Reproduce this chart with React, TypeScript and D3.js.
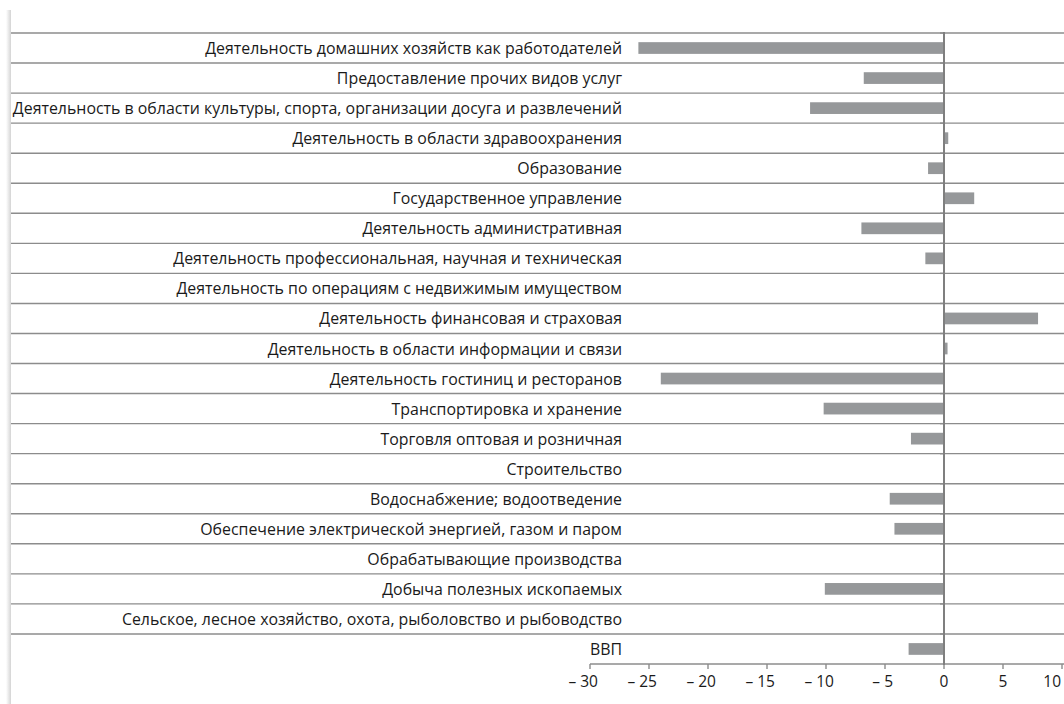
import React from "react";
import * as d3 from "d3";

const categories: string[] = [
  "Деятельность домашних хозяйств как работодателей",
  "Предоставление прочих видов услуг",
  "Деятельность в области культуры, спорта, организации досуга и развлечений",
  "Деятельность в области здравоохранения",
  "Образование",
  "Государственное управление",
  "Деятельность административная",
  "Деятельность профессиональная, научная и техническая",
  "Деятельность по операциям с недвижимым имуществом",
  "Деятельность финансовая и страховая",
  "Деятельность в области информации и связи",
  "Деятельность гостиниц и ресторанов",
  "Транспортировка и хранение",
  "Торговля оптовая и розничная",
  "Строительство",
  "Водоснабжение; водоотведение",
  "Обеспечение электрической энергией, газом и паром",
  "Обрабатывающие производства",
  "Добыча полезных ископаемых",
  "Сельское, лесное хозяйство, охота, рыболовство и рыбоводство",
  "ВВП",
];

const values: number[] = [
  -25.9, -6.8, -11.35, 0.36, -1.35, 2.56, -7.0, -1.58, 0, 7.97, 0.3, -24.0,
  -10.2, -2.8, 0, -4.6, -4.2, 0, -10.1, 0, -3.0,
];

const xTicks: number[] = [-30, -25, -20, -15, -10, -5, 0, 5, 10];

const fmt = (v: number) => (v < 0 ? "\u2013 " + Math.abs(v) : String(v));

export default function App() {
  const W = 1064;
  const H = 704;
  const x = d3.scaleLinear().domain([-30, 10]).range([590, 1062]);
  const yRow = d3.scaleBand<string>().domain(categories).range([33, 664]).padding(0);
  const y = d3
    .scaleBand<string>()
    .domain(categories)
    .range([33, 664])
    .paddingInner(0.61)
    .paddingOuter(0.305);
  const x0 = x(0);
  const font = "'Open Sans', sans-serif";

  return (
    <svg
      width={W}
      height={H}
      style={{ position: "absolute", left: 0, top: 0, background: "#fff" }}
    >
      <defs>
        <linearGradient id="shadow" x1="0" x2="1" y1="0" y2="0">
          <stop offset="0" stopColor="#ffffff" />
          <stop offset="1" stopColor="#d4d4d4" />
        </linearGradient>
      </defs>
      <rect x={6} y={10} width={5} height={H - 10} fill="url(#shadow)" />
      {categories.map((c) => (
        <line
          key={"r" + c}
          x1={11}
          x2={W}
          y1={yRow(c)!}
          y2={yRow(c)!}
          stroke="#8c8c8c"
          strokeWidth={1.4}
        />
      ))}
      {categories.map((c, i) => {
        const v = values[i];
        if (v === 0) return null;
        return (
          <rect
            key={"b" + c}
            x={Math.min(x(v), x0)}
            width={Math.abs(x(v) - x0)}
            y={y(c)!}
            height={y.bandwidth()}
            fill="#96989a"
          />
        );
      })}
      {categories.map((c) => (
        <text
          key={"t" + c}
          x={622}
          y={yRow(c)! + yRow.bandwidth() / 2}
          textAnchor="end"
          dominantBaseline="central"
          fontFamily={font}
          fontSize={15.9}
          fill="#1a1a1a"
        >
          {c}
        </text>
      ))}
      {categories.map((c) => (
        <line
          key={"ct" + c}
          x1={x0 - 4}
          x2={x0}
          y1={yRow(c)!}
          y2={yRow(c)!}
          stroke="#8c8c8c"
          strokeWidth={1.4}
        />
      ))}
      <line x1={x(-30)} x2={W} y1={664} y2={664} stroke="#8c8c8c" strokeWidth={1.4} />
      {xTicks.map((t, i) => {
        const last = i === xTicks.length - 1;
        const anchor = t < 0 || last ? "end" : "middle";
        const tx = t < 0 ? x(t) + 8 : last ? x(t) - 1 : x(t);
        return (
          <g key={"xt" + t}>
            <line x1={x(t)} x2={x(t)} y1={664} y2={669} stroke="#8c8c8c" strokeWidth={1.4} />
            <text
              x={tx}
              y={681}
              textAnchor={anchor}
              dominantBaseline="central"
              fontFamily={font}
              fontSize={15.5}
              fill="#1a1a1a"
            >
              {fmt(t)}
            </text>
          </g>
        );
      })}
      <line x1={x0} x2={x0} y1={32} y2={665} stroke="#7f7f7f" strokeWidth={2} />
    </svg>
  );
}
